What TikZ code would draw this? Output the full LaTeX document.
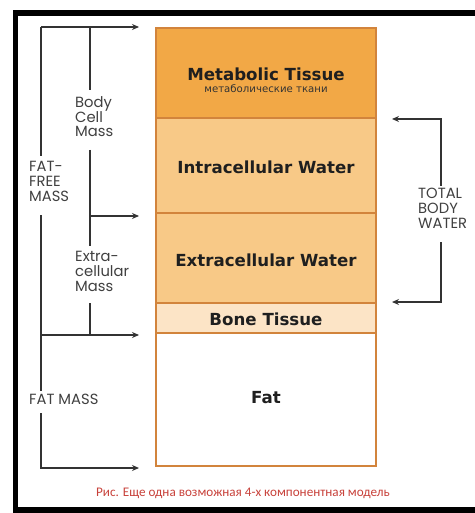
\documentclass[tikz,border=0pt]{standalone}
\usepackage{fontspec}
\setmainfont{DejaVu Sans}
\newfontfamily\labfont{Poppins}
\newfontfamily\capfont{Carlito}
\usetikzlibrary{arrows.meta}
\definecolor{metc}{HTML}{F2A846}
\definecolor{waterc}{HTML}{F8C987}
\definecolor{bonec}{HTML}{FCE4C6}
\definecolor{borderc}{HTML}{D2843C}
\definecolor{linec}{HTML}{333333}
\definecolor{labc}{HTML}{404040}
\definecolor{capc}{HTML}{C8413A}
\begin{document}
\begin{tikzpicture}[x=1bp,y=-1bp,
  layer/.style={draw=borderc,line width=2.5bp,minimum width=220bp,inner sep=0pt,rectangle},
  boxtext/.style={font=\fontsize{16.7}{18}\selectfont\bfseries,text=black!88,inner sep=0pt,anchor=base},
  sidelab/.style={font=\labfont\fontsize{14.8}{15}\selectfont,text=labc,align=left,inner sep=0pt,anchor=north west},
  conn/.style={draw=linec,line width=1.4bp},
  arr/.style={conn,-{Stealth[length=7bp,width=6bp]}}]
\useasboundingbox (0,0) rectangle (475,513);
\fill[white] (0,0) rectangle (475,513);
% frame
\fill[black] (13,10) rectangle (475,16);
\fill[black] (13,10) rectangle (18,513);
\fill[black] (13,507) rectangle (475,513);
% layers
\node[layer,fill=metc,minimum height=90bp] (met) at (266,73) {};
\node[layer,fill=waterc,minimum height=95bp] (icw) at (266,165.5) {};
\node[layer,fill=waterc,minimum height=90bp] (ecw) at (266,258) {};
\node[layer,fill=bonec,minimum height=30bp] (bone) at (266,318) {};
\node[layer,fill=white,minimum height=133bp] (fat) at (266,399.5) {};
% layer texts
\node[boxtext] (mett) at (266,81) {Metabolic Tissue};
\node[font=\fontsize{10.2}{11}\selectfont,text=black!80,inner sep=0pt,anchor=base] (mets) at (266,92.5) {метаболические ткани};
\node[boxtext] (icwt) at (266,174) {Intracellular Water};
\node[boxtext] (ecwt) at (266,266) {Extracellular Water};
\node[boxtext] (bonet) at (266,325) {Bone Tissue};
\node[boxtext] (fatt) at (266,403) {Fat};
% side labels
\node[sidelab] (bcm) at (75,96) {Body\\Cell\\Mass};
\node[sidelab] (ffm) at (29,161) {FAT-\\FREE\\MASS};
\node[sidelab] (ecm) at (75,251) {Extra-\\cellular\\Mass};
\node[sidelab] (fm) at (29,394) {FAT MASS};
\node[sidelab] (tbw) at (418,188) {TOTAL\\BODY\\WATER};
% coordinates
\coordinate (o1) at (41,27);
\coordinate (o1e) at (139,27);
\coordinate (i1) at (90,27);
\coordinate (ffmtop) at (41,156);
\coordinate (ffmbot) at (41,215);
\coordinate (fmtop) at (41,391);
\coordinate (fmbot) at (41,413);
\coordinate (o4) at (41,468);
\coordinate (o4e) at (139,468);
\coordinate (o3) at (41,335);
\coordinate (o3e) at (139,335);
\coordinate (bcmtop) at (90,90);
\coordinate (bcmbot) at (90,150);
\coordinate (i2) at (90,216);
\coordinate (i2e) at (139,216);
\coordinate (ecmtop) at (90,246);
\coordinate (ecmbot) at (90,303);
\coordinate (i3) at (90,335);
\coordinate (r1) at (441,119);
\coordinate (r1e) at (392,119);
\coordinate (tbwtop) at (441,186);
\coordinate (tbwbot) at (441,242);
\coordinate (r2) at (441,302);
\coordinate (r2e) at (392,302);
% connectors
\draw[arr] (o1) -- (o1e);
\draw[conn] (o1) -- (ffmtop);
\draw[conn] (ffmbot) -- (fmtop);
\draw[arr] (fmbot) -- (o4) -- (o4e);
\draw[arr] (o3) -- (o3e);
\draw[conn] (i1) -- (bcmtop);
\draw[conn] (bcmbot) -- (ecmtop);
\draw[arr] (i2) -- (i2e);
\draw[conn] (ecmbot) -- (i3);
\draw[arr] (tbwtop) -- (r1) -- (r1e);
\draw[arr] (tbwbot) -- (r2) -- (r2e);
% caption
\node[font=\capfont\fontsize{13.2}{14}\selectfont,text=capc,inner sep=0pt,anchor=base] (cap) at (243,496) {Рис. Еще одна возможная 4-х компонентная модель};
\end{tikzpicture}
\end{document}
